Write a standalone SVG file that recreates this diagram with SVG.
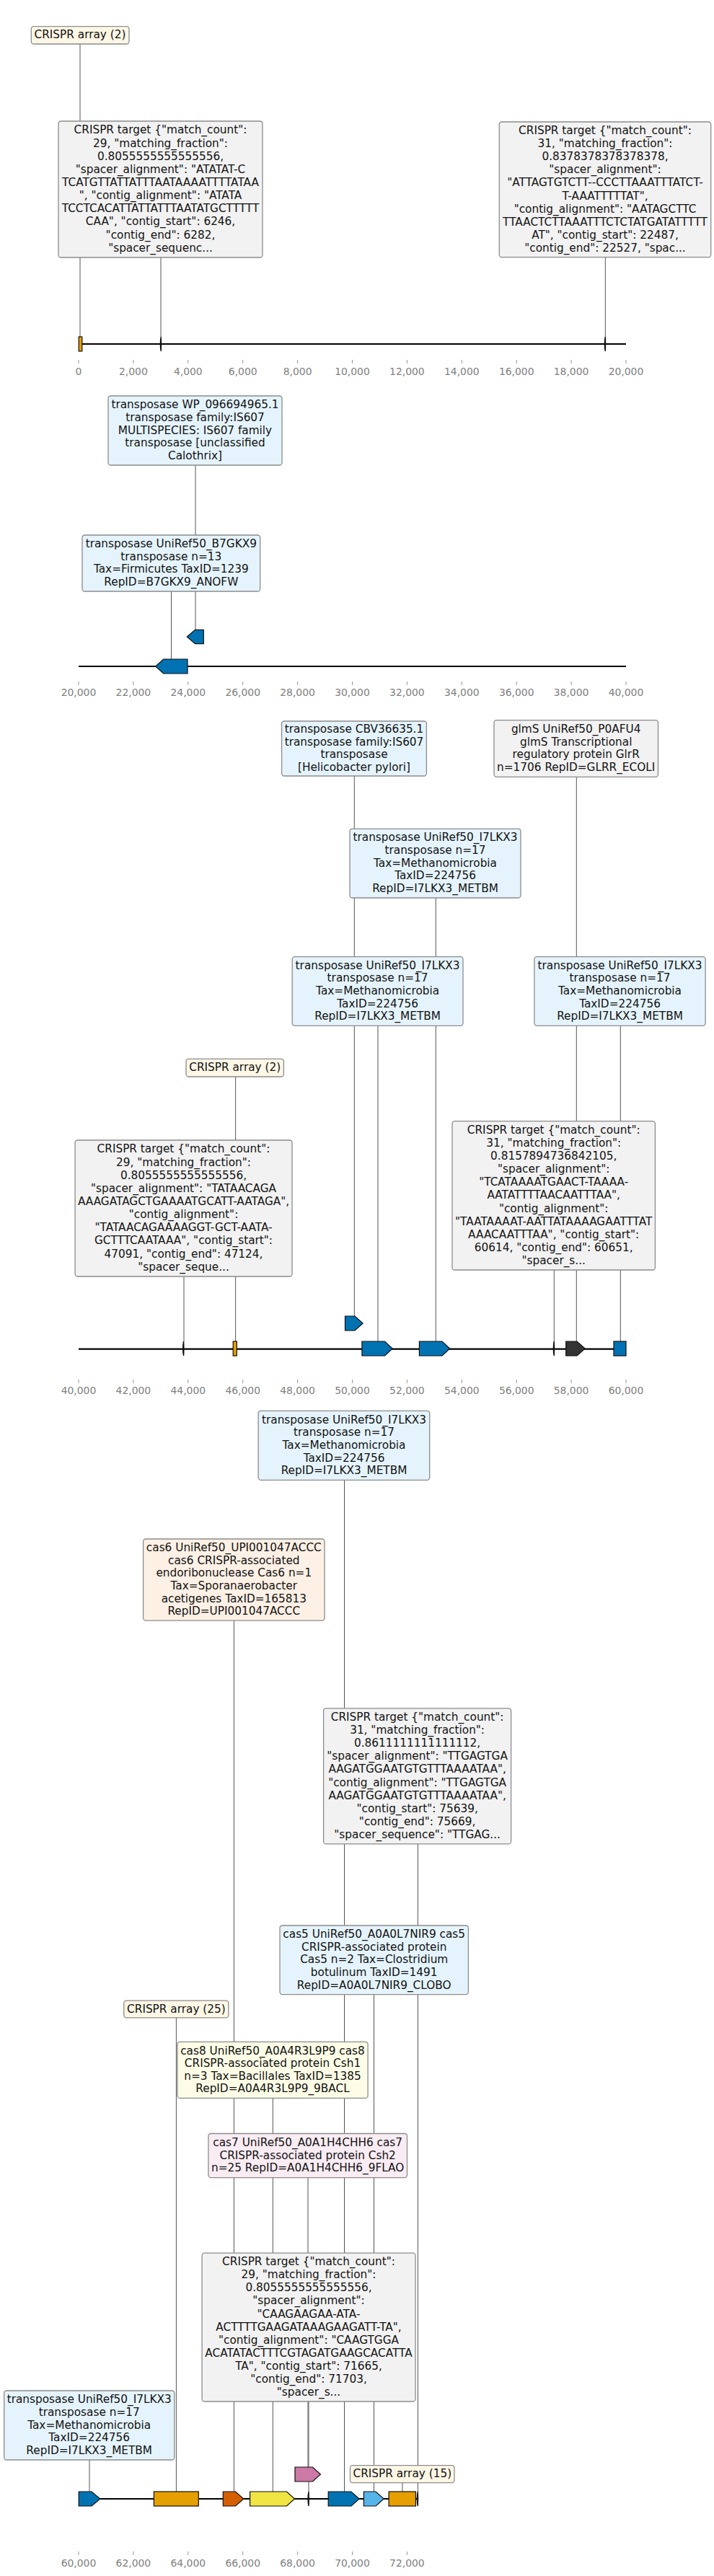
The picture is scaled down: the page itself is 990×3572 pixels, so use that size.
<svg xmlns="http://www.w3.org/2000/svg" width="990" height="3572" viewBox="0 0 990 3572">
<style>
.bx rect{stroke:#8c8c8c;stroke-width:1.3}
.bx text{font-family:"DejaVu Sans",sans-serif;font-size:15.3px;fill:#111;text-anchor:middle}
.tgt{fill:#f2f2f2}.arr{fill:#fff7e6}.tra{fill:#e5f4fc}.gly{fill:#f2f2f2}.c6{fill:#fdf0e5}.c8{fill:#fdfde7}.c7{fill:#f9ecf3}
.cn line{stroke:#555;stroke-width:1}
.ft path,.ft rect{stroke:#111;stroke-width:1.2}
.ft .mk{fill:#111;stroke:#111;stroke-width:1.3}
.ax{stroke:#000;stroke-width:2.2}
.tk{stroke:#8a8a8a;stroke-width:0.9}
.tl{font-family:"DejaVu Sans",sans-serif;font-size:13.9px;fill:#808080;text-anchor:middle}
</style>
<rect width="990" height="3572" fill="#fff"/>

<g id="connectors" class="cn">
<line x1="111" y1="61" x2="111" y2="467"/>
<line x1="223" y1="357" x2="223" y2="467"/>
<line x1="839.3" y1="356" x2="839.3" y2="467"/>
<line x1="271" y1="645" x2="271" y2="873"/>
<line x1="237.5" y1="820" x2="237.5" y2="914"/>
<line x1="491.3" y1="1076" x2="491.3" y2="1825"/>
<line x1="604.3" y1="1245" x2="604.3" y2="1860"/>
<line x1="524" y1="1422" x2="524" y2="1860"/>
<line x1="799.3" y1="1077" x2="799.3" y2="1860"/>
<line x1="860.3" y1="1422" x2="860.3" y2="1860"/>
<line x1="326.6" y1="1493" x2="326.6" y2="1860"/>
<line x1="255" y1="1770" x2="255" y2="1860"/>
<line x1="768.3" y1="1761" x2="768.3" y2="1860"/>
<line x1="477.5" y1="2052" x2="477.5" y2="3455"/>
<line x1="324.4" y1="2247" x2="324.4" y2="3455"/>
<line x1="579.4" y1="2557" x2="579.4" y2="3455"/>
<line x1="518.5" y1="2765" x2="518.5" y2="3455"/>
<line x1="244.4" y1="2797" x2="244.4" y2="3455"/>
<line x1="378.3" y1="2909" x2="378.3" y2="3455"/>
<line x1="427" y1="3019" x2="427" y2="3421"/>
<line x1="428" y1="3330" x2="428" y2="3455"/>
<line x1="124" y1="3411" x2="124" y2="3455"/>
<line x1="558" y1="3442" x2="558" y2="3455"/>
</g>

<g id="axes">
<line class="ax" x1="109" y1="477" x2="868" y2="477"/>
<line class="ax" x1="109" y1="924" x2="868" y2="924"/>
<line class="ax" x1="109" y1="1870.7" x2="868" y2="1870.7"/>
<line class="ax" x1="109" y1="3465" x2="579.5" y2="3465"/>
<path class="tk" d="M109,499v5M184.9,499v5M260.8,499v5M336.7,499v5M412.6,499v5M488.5,499v5M564.4,499v5M640.3,499v5M716.2,499v5M792.1,499v5M868,499v5
M109,945v5M184.9,945v5M260.8,945v5M336.7,945v5M412.6,945v5M488.5,945v5M564.4,945v5M640.3,945v5M716.2,945v5M792.1,945v5M868,945v5
M109,1913v5M184.9,1913v5M260.8,1913v5M336.7,1913v5M412.6,1913v5M488.5,1913v5M564.4,1913v5M640.3,1913v5M716.2,1913v5M792.1,1913v5M868,1913v5
M109,3538v5M184.9,3538v5M260.8,3538v5M336.7,3538v5M412.6,3538v5M488.5,3538v5M564.4,3538v5"/>
<g class="tl">
<text x="109" y="520">0</text><text x="184.9" y="520">2,000</text><text x="260.8" y="520">4,000</text><text x="336.7" y="520">6,000</text><text x="412.6" y="520">8,000</text><text x="488.5" y="520">10,000</text><text x="564.4" y="520">12,000</text><text x="640.3" y="520">14,000</text><text x="716.2" y="520">16,000</text><text x="792.1" y="520">18,000</text><text x="868" y="520">20,000</text>
<text x="109" y="965">20,000</text><text x="184.9" y="965">22,000</text><text x="260.8" y="965">24,000</text><text x="336.7" y="965">26,000</text><text x="412.6" y="965">28,000</text><text x="488.5" y="965">30,000</text><text x="564.4" y="965">32,000</text><text x="640.3" y="965">34,000</text><text x="716.2" y="965">36,000</text><text x="792.1" y="965">38,000</text><text x="868" y="965">40,000</text>
<text x="109" y="1933">40,000</text><text x="184.9" y="1933">42,000</text><text x="260.8" y="1933">44,000</text><text x="336.7" y="1933">46,000</text><text x="412.6" y="1933">48,000</text><text x="488.5" y="1933">50,000</text><text x="564.4" y="1933">52,000</text><text x="640.3" y="1933">54,000</text><text x="716.2" y="1933">56,000</text><text x="792.1" y="1933">58,000</text><text x="868" y="1933">60,000</text>
<text x="109" y="3559">60,000</text><text x="184.9" y="3559">62,000</text><text x="260.8" y="3559">64,000</text><text x="336.7" y="3559">66,000</text><text x="412.6" y="3559">68,000</text><text x="488.5" y="3559">70,000</text><text x="564.4" y="3559">72,000</text>
</g>
</g>

<g id="features" class="ft">
<rect x="109.2" y="467" width="4.6" height="20" fill="#e69f00"/>
<path class="mk" d="M223.3,467C222,472 222,482 223.3,487C223.6,482 223.6,472 223.3,467Z"/>
<path class="mk" d="M839.3,467C838,472 838,482 839.3,487C839.6,482 839.6,472 839.3,467Z"/>
<path d="M259.3,883L270.5,873.3H282.3V892.7H270.5Z" fill="#0072b2"/>
<path d="M215.7,924L226.7,914H260V934H226.7Z" fill="#0072b2"/>
<path class="mk" d="M254.6,1860C253.3,1865 253.3,1875 254.6,1880C254.9,1875 254.9,1865 254.6,1860Z"/>
<rect x="323.2" y="1860" width="5.1" height="20" fill="#e69f00"/>
<path d="M478.5,1825H492L503.2,1835L492,1845H478.5Z" fill="#0072b2"/>
<path d="M501.9,1860H533.5L544.2,1870L533.5,1880H501.9Z" fill="#0072b2"/>
<path d="M581.4,1860H613L623.7,1870L613,1880H581.4Z" fill="#0072b2"/>
<path class="mk" d="M768.3,1860C767,1865 767,1875 768.3,1880C768.6,1875 768.6,1865 768.3,1860Z"/>
<path d="M784.7,1860H800L811.2,1870L800,1880H784.7Z" fill="#333"/>
<rect x="851" y="1860" width="17" height="20" fill="#0072b2"/>
<path d="M109.2,3455H127L138.9,3465L127,3475H109.2Z" fill="#0072b2"/>
<rect x="213.4" y="3455" width="61.9" height="20" fill="#e69f00"/>
<path d="M309.3,3455H326.5L337.8,3465L326.5,3475H309.3Z" fill="#d55e00"/>
<path d="M346.6,3455H397.5L408.5,3465L397.5,3475H346.6Z" fill="#f0e442"/>
<path class="mk" d="M428,3455C426.7,3460 426.7,3470 428,3475C428.3,3470 428.3,3460 428,3455Z"/>
<path d="M409,3421H433.5L444.4,3431L433.5,3441H409Z" fill="#cc79a7"/>
<path d="M455.2,3455H487L498.1,3465L487,3475H455.2Z" fill="#0072b2"/>
<path d="M504.4,3455H521L532.2,3465L521,3475H504.4Z" fill="#56b4e9"/>
<rect x="539.1" y="3455" width="37.3" height="20" fill="#e69f00"/>
<path class="mk" d="M579.3,3455C578,3460 578,3470 579.3,3475C579.6,3470 579.6,3460 579.3,3455Z"/>
</g>

<g id="n1" class="bx"><rect class="arr" x="43.3" y="36.7" width="135.7" height="24.3" rx="3.5"/><text x="111" y="53.4">CRISPR array (2)</text></g>

<g id="n2" class="bx"><rect class="tgt" x="81" y="168" width="283" height="189" rx="3.5"/><text y="185.4"><tspan x="222.5">CRISPR target {"match_count":</tspan><tspan x="222.5" dy="18.15">29, "matching_fraction":</tspan><tspan x="222.5" dy="18.15">0.8055555555555556,</tspan><tspan x="222.5" dy="18.15">"spacer_alignment": "ATATAT-C</tspan><tspan x="222.5" dy="18.15">TCATGTTATTATTTAATAAAATTTTATAA</tspan><tspan x="222.5" dy="18.15">", "contig_alignment": "ATATA</tspan><tspan x="222.5" dy="18.15">TCCTCACATTATTATTTAATATGCTTTTT</tspan><tspan x="222.5" dy="18.15">CAA", "contig_start": 6246,</tspan><tspan x="222.5" dy="18.15">"contig_end": 6282,</tspan><tspan x="222.5" dy="18.15">"spacer_sequenc...</tspan></text></g>

<g id="n3" class="bx"><rect class="tgt" x="692.3" y="169" width="293.4" height="187.7" rx="3.5"/><text y="185.8"><tspan x="839">CRISPR target {"match_count":</tspan><tspan x="839" dy="18.15">31, "matching_fraction":</tspan><tspan x="839" dy="18.15">0.8378378378378378,</tspan><tspan x="839" dy="18.15">"spacer_alignment":</tspan><tspan x="839" dy="18.15">"ATTAGTGTCTT--CCCTTAAATTTATCT-</tspan><tspan x="839" dy="18.15">T-AAATTTTTAT",</tspan><tspan x="839" dy="18.15">"contig_alignment": "AATAGCTTC</tspan><tspan x="839" dy="18.15">TTAACTCTTAAATTTCTCTATGATATTTTT</tspan><tspan x="839" dy="18.15">AT", "contig_start": 22487,</tspan><tspan x="839" dy="18.15">"contig_end": 22527, "spac...</tspan></text></g>

<g id="n4" class="bx"><rect class="tra" x="150" y="549" width="241" height="96" rx="3.5"/><text y="566.3"><tspan x="270.5">transposase WP_096694965.1</tspan><tspan x="270.5" dy="17.65">transposase family:IS607</tspan><tspan x="270.5" dy="17.65">MULTISPECIES: IS607 family</tspan><tspan x="270.5" dy="17.65">transposase [unclassified</tspan><tspan x="270.5" dy="17.65">Calothrix]</tspan></text></g>

<g id="n5" class="bx"><rect class="tra" x="114" y="742" width="246.7" height="78" rx="3.5"/><text y="759.1"><tspan x="237.3">transposase UniRef50_B7GKX9</tspan><tspan x="237.3" dy="17.65">transposase n=13</tspan><tspan x="237.3" dy="17.65">Tax=Firmicutes TaxID=1239</tspan><tspan x="237.3" dy="17.65">RepID=B7GKX9_ANOFW</tspan></text></g>

<g id="n6" class="bx"><rect class="tra" x="390.6" y="1000" width="200.8" height="76" rx="3.5"/><text y="1016.1"><tspan x="491">transposase CBV36635.1</tspan><tspan x="491" dy="17.65">transposase family:IS607</tspan><tspan x="491" dy="17.65">transposase</tspan><tspan x="491" dy="17.65">[Helicobacter pylori]</tspan></text></g>

<g id="n7" class="bx"><rect class="gly" x="685" y="998.7" width="227.5" height="78.6" rx="3.5"/><text y="1016.1"><tspan x="798.7">glmS UniRef50_P0AFU4</tspan><tspan x="798.7" dy="17.65">glmS Transcriptional</tspan><tspan x="798.7" dy="17.65">regulatory protein GlrR</tspan><tspan x="798.7" dy="17.65">n=1706 RepID=GLRR_ECOLI</tspan></text></g>

<g id="n8" class="bx"><rect class="tra" x="485" y="1149.3" width="237" height="95.7" rx="3.5"/><text y="1166.4"><tspan x="603.5">transposase UniRef50_I7LKX3</tspan><tspan x="603.5" dy="17.65">transposase n=17</tspan><tspan x="603.5" dy="17.65">Tax=Methanomicrobia</tspan><tspan x="603.5" dy="17.65">TaxID=224756</tspan><tspan x="603.5" dy="17.65">RepID=I7LKX3_METBM</tspan></text></g>

<g id="n9" class="bx"><rect class="tra" x="405.2" y="1326.7" width="236.8" height="95.6" rx="3.5"/><text y="1343.8"><tspan x="523.6">transposase UniRef50_I7LKX3</tspan><tspan x="523.6" dy="17.65">transposase n=17</tspan><tspan x="523.6" dy="17.65">Tax=Methanomicrobia</tspan><tspan x="523.6" dy="17.65">TaxID=224756</tspan><tspan x="523.6" dy="17.65">RepID=I7LKX3_METBM</tspan></text></g>

<g id="n10" class="bx"><rect class="tra" x="740.9" y="1326.7" width="237.2" height="95.6" rx="3.5"/><text y="1343.8"><tspan x="859.5">transposase UniRef50_I7LKX3</tspan><tspan x="859.5" dy="17.65">transposase n=17</tspan><tspan x="859.5" dy="17.65">Tax=Methanomicrobia</tspan><tspan x="859.5" dy="17.65">TaxID=224756</tspan><tspan x="859.5" dy="17.65">RepID=I7LKX3_METBM</tspan></text></g>

<g id="n11" class="bx"><rect class="arr" x="258" y="1468.3" width="135.4" height="24.7" rx="3.5"/><text x="325.7" y="1485.2">CRISPR array (2)</text></g>

<g id="n12" class="bx"><rect class="tgt" x="104.1" y="1581" width="300.9" height="189" rx="3.5"/><text y="1598.4"><tspan x="254.5">CRISPR target {"match_count":</tspan><tspan x="254.5" dy="18.15">29, "matching_fraction":</tspan><tspan x="254.5" dy="18.15">0.8055555555555556,</tspan><tspan x="254.5" dy="18.15">"spacer_alignment": "TATAACAGA</tspan><tspan x="254.5" dy="18.15">AAAGATAGCTGAAAATGCATT-AATAGA",</tspan><tspan x="254.5" dy="18.15">"contig_alignment":</tspan><tspan x="254.5" dy="18.15">"TATAACAGAAAAGGT-GCT-AATA-</tspan><tspan x="254.5" dy="18.15">GCTTTCAATAAA", "contig_start":</tspan><tspan x="254.5" dy="18.15">47091, "contig_end": 47124,</tspan><tspan x="254.5" dy="18.15">"spacer_seque...</tspan></text></g>

<g id="n13" class="bx"><rect class="tgt" x="627" y="1554.7" width="281.4" height="206.3" rx="3.5"/><text y="1571.7"><tspan x="767.7">CRISPR target {"match_count":</tspan><tspan x="767.7" dy="18.15">31, "matching_fraction":</tspan><tspan x="767.7" dy="18.15">0.8157894736842105,</tspan><tspan x="767.7" dy="18.15">"spacer_alignment":</tspan><tspan x="767.7" dy="18.15">"TCATAAAATGAACT-TAAAA-</tspan><tspan x="767.7" dy="18.15">AATATTTTAACAATTTAA",</tspan><tspan x="767.7" dy="18.15">"contig_alignment":</tspan><tspan x="767.7" dy="18.15">"TAATAAAAT-AATTATAAAAGAATTTAT</tspan><tspan x="767.7" dy="18.15">AAACAATTTAA", "contig_start":</tspan><tspan x="767.7" dy="18.15">60614, "contig_end": 60651,</tspan><tspan x="767.7" dy="18.15">"spacer_s...</tspan></text></g>

<g id="n14" class="bx"><rect class="tra" x="358.2" y="1956.3" width="237.5" height="96" rx="3.5"/><text y="1973.6"><tspan x="477">transposase UniRef50_I7LKX3</tspan><tspan x="477" dy="17.65">transposase n=17</tspan><tspan x="477" dy="17.65">Tax=Methanomicrobia</tspan><tspan x="477" dy="17.65">TaxID=224756</tspan><tspan x="477" dy="17.65">RepID=I7LKX3_METBM</tspan></text></g>

<g id="n15" class="bx"><rect class="c6" x="198.6" y="2134" width="251.4" height="113.1" rx="3.5"/><text y="2151"><tspan x="324.3">cas6 UniRef50_UPI001047ACCC</tspan><tspan x="324.3" dy="17.65">cas6 CRISPR-associated</tspan><tspan x="324.3" dy="17.65">endoribonuclease Cas6 n=1</tspan><tspan x="324.3" dy="17.65">Tax=Sporanaerobacter</tspan><tspan x="324.3" dy="17.65">acetigenes TaxID=165813</tspan><tspan x="324.3" dy="17.65">RepID=UPI001047ACCC</tspan></text></g>

<g id="n16" class="bx"><rect class="tgt" x="448.6" y="2368.8" width="260" height="188.1" rx="3.5"/><text y="2385.8"><tspan x="578.6">CRISPR target {"match_count":</tspan><tspan x="578.6" dy="18.15">31, "matching_fraction":</tspan><tspan x="578.6" dy="18.15">0.8611111111111112,</tspan><tspan x="578.6" dy="18.15">"spacer_alignment": "TTGAGTGA</tspan><tspan x="578.6" dy="18.15">AAGATGGAATGTGTTTAAAATAA",</tspan><tspan x="578.6" dy="18.15">"contig_alignment": "TTGAGTGA</tspan><tspan x="578.6" dy="18.15">AAGATGGAATGTGTTTAAAATAA",</tspan><tspan x="578.6" dy="18.15">"contig_start": 75639,</tspan><tspan x="578.6" dy="18.15">"contig_end": 75669,</tspan><tspan x="578.6" dy="18.15">"spacer_sequence": "TTGAG...</tspan></text></g>

<g id="n17" class="bx"><rect class="tra" x="388" y="2670" width="261.4" height="95.6" rx="3.5"/><text y="2687.1"><tspan x="518.7">cas5 UniRef50_A0A0L7NIR9 cas5</tspan><tspan x="518.7" dy="17.65">CRISPR-associated protein</tspan><tspan x="518.7" dy="17.65">Cas5 n=2 Tax=Clostridium</tspan><tspan x="518.7" dy="17.65">botulinum TaxID=1491</tspan><tspan x="518.7" dy="17.65">RepID=A0A0L7NIR9_CLOBO</tspan></text></g>

<g id="n18" class="bx"><rect class="arr" x="171.8" y="2774.1" width="145.1" height="23.7" rx="3.5"/><text x="244.4" y="2790.5">CRISPR array (25)</text></g>

<g id="n19" class="bx"><rect class="c8" x="246" y="2831.3" width="264.1" height="78.1" rx="3.5"/><text y="2848.5"><tspan x="378">cas8 UniRef50_A0A4R3L9P9 cas8</tspan><tspan x="378" dy="17.65">CRISPR-associated protein Csh1</tspan><tspan x="378" dy="17.65">n=3 Tax=Bacillales TaxID=1385</tspan><tspan x="378" dy="17.65">RepID=A0A4R3L9P9_9BACL</tspan></text></g>

<g id="n20" class="bx"><rect class="c7" x="288.9" y="2958.5" width="275.6" height="61.1" rx="3.5"/><text y="2976"><tspan x="426.7">cas7 UniRef50_A0A1H4CHH6 cas7</tspan><tspan x="426.7" dy="17.65">CRISPR-associated protein Csh2</tspan><tspan x="426.7" dy="17.65">n=25 RepID=A0A1H4CHH6_9FLAO</tspan></text></g>

<g id="n21" class="bx"><rect class="tgt" x="280.1" y="3124.1" width="295.9" height="205.9" rx="3.5"/><text y="3140.9"><tspan x="428">CRISPR target {"match_count":</tspan><tspan x="428" dy="18.15">29, "matching_fraction":</tspan><tspan x="428" dy="18.15">0.8055555555555556,</tspan><tspan x="428" dy="18.15">"spacer_alignment":</tspan><tspan x="428" dy="18.15">"CAAGAAGAA-ATA-</tspan><tspan x="428" dy="18.15">ACTTTTGAAGATAAAGAAGATT-TA",</tspan><tspan x="428" dy="18.15">"contig_alignment": "CAAGTGGA</tspan><tspan x="428" dy="18.15">ACATATACTTTCGTAGATGAAGCACATTA</tspan><tspan x="428" dy="18.15">TA", "contig_start": 71665,</tspan><tspan x="428" dy="18.15">"contig_end": 71703,</tspan><tspan x="428" dy="18.15">"spacer_s...</tspan></text></g>

<g id="n22" class="bx"><rect class="tra" x="5.7" y="3315" width="236.1" height="96" rx="3.5"/><text y="3332.3"><tspan x="123.7">transposase UniRef50_I7LKX3</tspan><tspan x="123.7" dy="17.65">transposase n=17</tspan><tspan x="123.7" dy="17.65">Tax=Methanomicrobia</tspan><tspan x="123.7" dy="17.65">TaxID=224756</tspan><tspan x="123.7" dy="17.65">RepID=I7LKX3_METBM</tspan></text></g>

<g id="n23" class="bx"><rect class="arr" x="485.5" y="3418.7" width="144.5" height="24" rx="3.5"/><text x="557.8" y="3435.3">CRISPR array (15)</text></g>
</svg>
